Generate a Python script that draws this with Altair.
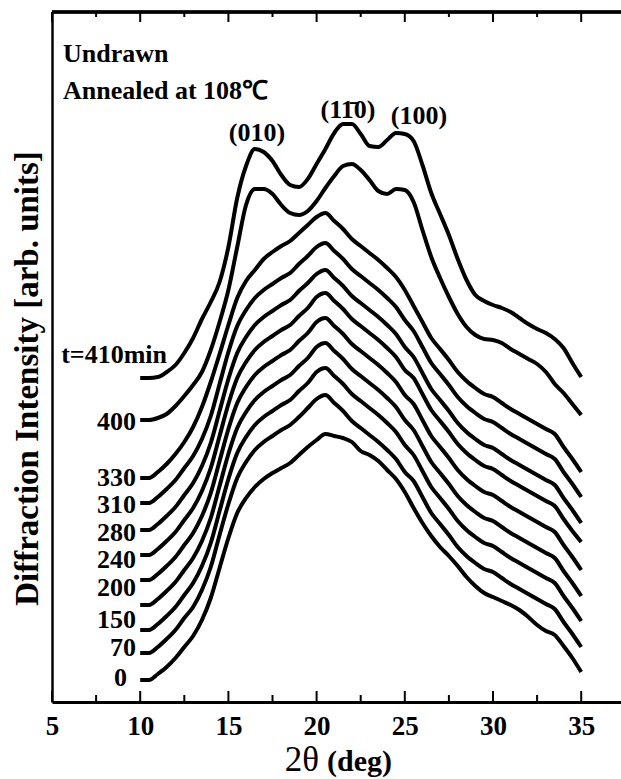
import altair as alt
import pandas as pd

# 2-theta sampling grid (deg)
two_theta = [10.0, 10.5, 11.0, 11.5, 12.0, 12.5, 13.0, 13.5, 14.0, 14.5,
             15.0, 15.5, 16.0, 16.5, 17.0, 17.5, 18.0, 18.5, 19.0, 19.5,
             20.0, 20.5, 21.0, 21.5, 22.0, 22.5, 23.0, 23.5, 24.0, 24.5,
             25.0, 25.5, 26.0, 26.5, 27.0, 27.5, 28.0, 28.5, 29.0, 29.5,
             30.0, 30.5, 31.0, 31.5, 32.0, 32.5, 33.0, 33.5, 34.0, 34.5, 35.0]

# intensities (arb. units, stacked offsets as drawn)
i410 = [324, 324, 325, 330, 337, 349, 364, 383, 400, 420,
        455, 504, 536, 553, 550, 541, 527, 517, 515, 523,
        538, 553, 569, 578, 578, 568, 556, 555, 562, 569, 568, 561, 537, 509,
        488, 467, 443, 422, 407, 401, 397,
        394, 390, 384, 378, 373, 369, 363, 354, 339, 325]
i400 = [282, 282, 284, 288, 296, 306, 317, 330, 352, 380,
        412, 455, 497, 513, 513, 508, 497, 489, 487, 491,
        501, 514, 526, 536, 538, 532, 522, 511, 508, 513, 512, 500, 472, 445,
        424, 405, 388, 375, 367, 363, 362,
        359, 353, 348, 343, 338, 330, 318, 309, 298, 287]
i330 = [224, 224, 230, 238, 248, 260, 275, 295, 320, 348,
        377, 404, 421, 432, 443, 450, 456, 461, 469, 477,
        485, 489, 481, 473, 463, 456, 449, 442, 434, 425, 412, 396, 380, 364,
        353, 342, 330, 321, 314, 308, 305,
        299, 293, 288, 283, 278, 273, 268, 255, 243, 230]
i310 = [199, 199, 205, 213, 222, 234, 246, 263, 286, 318,
        350, 376, 392, 404, 412, 418, 424, 429, 438, 446,
        455, 459, 451, 443, 433, 426, 419, 412, 404, 395, 382, 371, 355, 339,
        328, 317, 305, 296, 289, 283, 280,
        274, 268, 263, 258, 253, 248, 243, 230, 218, 205]
i280 = [172, 172, 178, 186, 195, 207, 219, 236, 259, 291,
        323, 349, 365, 377, 385, 391, 397, 402, 411, 419,
        428, 432, 424, 416, 406, 399, 392, 385, 377, 368, 355, 345, 329, 313,
        302, 291, 279, 270, 263, 257, 254,
        248, 242, 237, 232, 227, 222, 217, 204, 192, 179]
i240 = [147, 147, 153, 161, 170, 182, 194, 211, 234, 266,
        298, 324, 340, 352, 360, 366, 372, 377, 386, 394,
        405, 409, 401, 393, 383, 376, 369, 362, 354, 345, 332, 324, 308, 292,
        281, 270, 258, 249, 242, 236, 233,
        227, 221, 216, 211, 206, 201, 196, 183, 171, 160]
i200 = [122, 122, 128, 136, 145, 157, 169, 186, 209, 241,
        273, 299, 315, 327, 335, 341, 347, 352, 361, 369,
        380, 384, 376, 368, 358, 351, 344, 337, 329, 320, 307, 298, 282, 266,
        255, 244, 232, 223, 216, 210, 207,
        201, 195, 190, 185, 180, 175, 170, 157, 145, 132]
i_unlabeled = [97, 97, 103, 111, 120, 132, 144, 161, 184, 216,
               248, 274, 290, 302, 310, 316, 322, 327, 336, 344,
               355, 359, 351, 343, 333, 326, 319, 312, 304, 295, 282, 272, 256, 240,
               229, 218, 206, 197, 190, 184, 181,
               175, 169, 164, 159, 154, 149, 144, 131, 119, 106]
i150 = [72, 72, 78, 86, 95, 107, 119, 136, 159, 191,
        223, 249, 265, 277, 285, 291, 297, 302, 311, 319,
        330, 334, 326, 318, 308, 301, 294, 287, 279, 270, 257, 247, 231, 215,
        204, 193, 181, 172, 165, 159, 156,
        150, 144, 139, 134, 129, 124, 119, 106, 94, 81]
i70 = [49, 49, 55, 63, 72, 84, 95, 112, 135, 167,
       198, 224, 240, 252, 260, 266, 272, 277, 285, 294,
       303, 307, 299, 291, 281, 274, 267, 260, 252, 243, 230, 221, 205, 189,
       178, 167, 155, 146, 139, 133, 130,
       124, 118, 113, 108, 103, 98, 93, 80, 68, 55]
i0 = [22, 22, 28, 35, 44, 55, 66, 82, 104, 134,
      164, 189, 204, 215, 223, 229, 234, 239, 247, 255,
      262, 268, 266, 264, 260, 251, 247, 241, 232, 223, 210, 194, 179, 166,
      155, 146, 136, 125, 116, 109, 105,
      101, 97, 92, 85, 77, 71, 67, 56, 44, 30]

curve_names = ["410", "400", "330", "310", "280", "240", "200", "unlabeled", "150", "70", "0"]
curve_values = [i410, i400, i330, i310, i280, i240, i200, i_unlabeled, i150, i70, i0]

# curve labels (annealing time)
label_texts = ["t=410min", "400", "330", "310", "280", "240", "200", "150", "70", "0"]
label_theta = [11.52, 9.76, 9.76, 9.76, 9.76, 9.76, 9.76, 9.76, 9.76, 9.25]
label_int = [347, 280, 224, 197, 169, 142, 114, 82, 54, 24]

# reflection labels
peak_texts = ["(010)", "(11\u03040)", "(100)"]
peak_theta = [16.62, 21.78, 25.8]
peak_int = [569, 592, 586]

major_ticks = [5, 10, 15, 20, 25, 30, 35]
minor_ticks = [7.5, 12.5, 17.5, 22.5, 27.5, 32.5]

rows = []
for name, vals in zip(curve_names, curve_values):
    for t, v in zip(two_theta, vals):
        rows.append({"curve": name, "theta": t, "I": v})
df = pd.DataFrame(rows)

W, H = 569, 690
FONT = "Liberation Serif"

xscale = alt.Scale(domain=[5, 5 + W / 17.64], nice=False, zero=False)
yscale = alt.Scale(domain=[0, H], nice=False, zero=False)

xaxis = alt.Axis(values=major_ticks, format="d", ticks=False, grid=False,
                 domainWidth=3, domainColor="black", labelFlush=False,
                 labelFont=FONT, labelFontWeight="bold", labelFontSize=27,
                 labelColor="black", labelPadding=11, title="")
yaxis = alt.Axis(ticks=False, labels=False, grid=False, domainWidth=2.5,
                 domainColor="black",
                 title="Diffraction Intensity [arb. units]", titleFont=FONT,
                 titleFontWeight="bold", titleFontSize=33, titleColor="black",
                 titleX=-15, titleY=366, titleBaseline="alphabetic",
                 titleAlign="center")

lines = alt.Chart(df).mark_line(color="black", strokeWidth=4,
                                interpolate="monotone").encode(
    x=alt.X("theta:Q", scale=xscale, axis=xaxis),
    y=alt.Y("I:Q", scale=yscale, axis=yaxis),
    detail="curve:N",
)

maj_df = pd.DataFrame({"theta": major_ticks})
min_df = pd.DataFrame({"theta": minor_ticks})

def tick_layer(d, y0, y1):
    return alt.Chart(d).mark_rule(color="black", strokeWidth=2).encode(
        x=alt.X("theta:Q", scale=xscale),
        y=alt.value(y0), y2=alt.value(y1))

ticks = [tick_layer(maj_df, H, H - 11), tick_layer(min_df, H, H - 7),
         tick_layer(maj_df, 0, 10), tick_layer(min_df, 0, 5)]

top_line = alt.Chart(maj_df).mark_rule(color="black", strokeWidth=2.5).encode(
    x=alt.value(0), x2=alt.value(W), y=alt.value(0))

lab_df = pd.DataFrame({"text": label_texts, "theta": label_theta, "I": label_int})
labels = alt.Chart(lab_df).mark_text(font=FONT, fontWeight="bold", fontSize=26,
                                     align="right", baseline="middle",
                                     color="black").encode(
    x=alt.X("theta:Q", scale=xscale),
    y=alt.Y("I:Q", scale=yscale),
    text="text:N")

pk_df = pd.DataFrame({"text": peak_texts, "theta": peak_theta, "I": peak_int})
peaks = alt.Chart(pk_df).mark_text(font=FONT, fontWeight="bold", fontSize=26,
                                   align="center", baseline="middle",
                                   color="black").encode(
    x=alt.X("theta:Q", scale=xscale),
    y=alt.Y("I:Q", scale=yscale),
    text="text:N")

def free_text(txt, x, y, size, weight, align):
    return alt.Chart(pd.DataFrame({"text": [txt]})).mark_text(
        font=FONT, fontWeight=weight, fontSize=size, align=align,
        baseline="alphabetic", color="black").encode(
        x=alt.value(x), y=alt.value(y), text="text:N")

hdr1 = free_text("Undrawn", 11, 50, 26, "bold", "left")
hdr2 = free_text("Annealed at 108\u2103", 11, 87, 26, "bold", "left")
xt1 = free_text("2θ", 267, 759, 35, "normal", "right")
xt2 = free_text("(deg)", 275, 759, 30, "bold", "left")

chart = alt.layer(lines, *ticks, top_line, labels, peaks, hdr1, hdr2, xt1, xt2).properties(
    width=W, height=H,
    autosize=alt.AutoSizeParams(type="none"),
    padding={"left": 52, "top": 12, "right": 0, "bottom": 77},
).configure_view(stroke=None).configure_axis(grid=False)

chart.save("out.html", embed_options={"renderer": "svg", "actions": False})
